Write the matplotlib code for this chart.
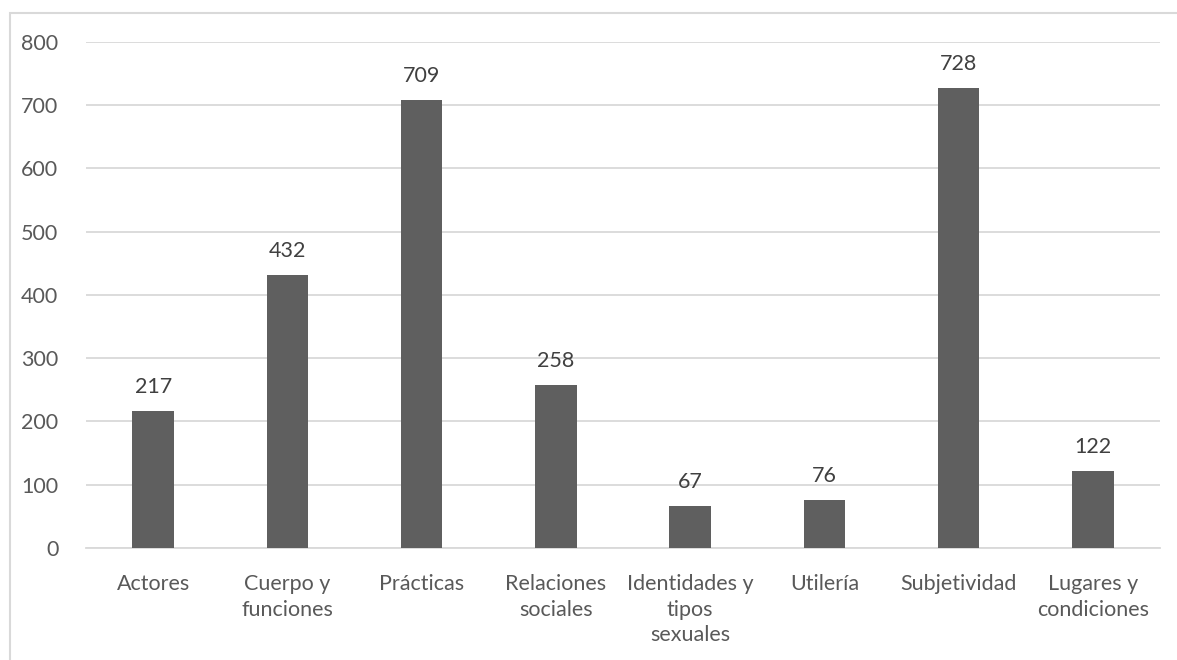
import matplotlib.pyplot as plt
from matplotlib.patches import Rectangle

# Datos
categorias = ["Actores", "Cuerpo y\nfunciones", "Prácticas", "Relaciones\nsociales",
              "Identidades y\ntipos\nsexuales", "Utilería", "Subjetividad",
              "Lugares y\ncondiciones"]
valores = [217, 432, 709, 258, 67, 76, 728, 122]
yticks = [0, 100, 200, 300, 400, 500, 600, 700, 800]

plt.rcParams['font.family'] = ['Lato', 'DejaVu Sans']
texto = '#595959'

fig = plt.figure(figsize=(11.77, 6.6), dpi=100)
ax = fig.add_axes([0.0731, 0.1697, 0.9125, 0.7667])

x = range(len(categorias))
ax.bar(x, valores, width=0.31, color='#5f5f5f', zorder=3)

for i, v in zip(x, valores):
    ax.annotate(str(v), (i, v), xytext=(0, 10), textcoords='offset points',
                ha='center', va='bottom', fontsize=15.5, color='#404040')

ax.set_xlim(-0.5, len(categorias) - 0.5)
ax.set_ylim(0, 800)
ax.set_yticks(yticks)
ax.set_xticks(list(x))
ax.set_xticklabels(categorias, fontsize=15.5, color=texto, linespacing=1.32)
ax.tick_params(axis='y', labelsize=15.5, labelcolor=texto, length=0, pad=20)
ax.tick_params(axis='x', length=0, pad=19)
ax.grid(axis='y', color='#d9d9d9', linewidth=1.3, zorder=0)
for s in ['top', 'right', 'left']:
    ax.spines[s].set_visible(False)
ax.spines['bottom'].set_color('#d9d9d9')
ax.spines['bottom'].set_linewidth(1.3)

# marco del gráfico
fig.patches.append(Rectangle((10 / 1177, -0.05), 1.2, 1 - 13 / 660 + 0.05,
                             transform=fig.transFigure, fill=False,
                             edgecolor='#d9d9d9', linewidth=1.5))

fig.savefig('out.png', dpi=100)
